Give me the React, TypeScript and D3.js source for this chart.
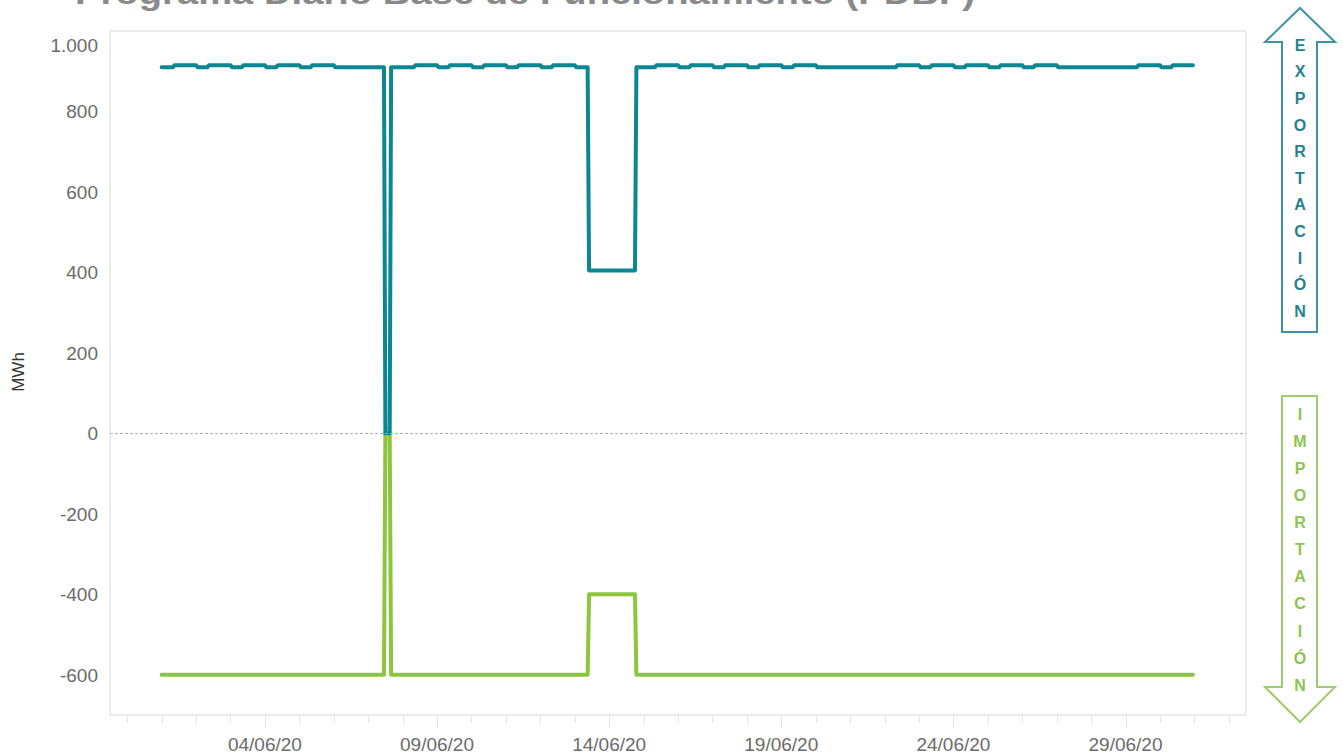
import React from "react";
import * as d3 from "d3";

// ---------- DATA ----------
// Hourly series for June 2020, encoded as runs: [hourIndex from 01/06 00:00, value]
const exportRuns: [number, number][] = [
  [0, 910], [9, 915], [25, 910], [33, 915], [49, 910], [57, 915], [73, 910], [81, 915],
  [97, 910], [105, 915], [121, 910], [156, 0], [160, 910], [177, 915], [193, 910],
  [201, 915], [217, 910], [225, 915], [241, 910], [249, 915], [265, 910], [273, 915],
  [289, 910], [298, 405], [331, 910], [345, 915], [361, 910], [369, 915], [385, 910],
  [393, 915], [409, 910], [417, 915], [433, 910], [441, 915], [457, 910], [513, 915],
  [529, 910], [537, 915], [553, 910], [561, 915], [577, 910], [585, 915], [601, 910],
  [609, 915], [625, 910], [681, 915], [697, 910], [705, 915],
];
const importRuns: [number, number][] = [
  [0, -600], [156, 0], [160, -600], [298, -400], [331, -600],
];
const hourCount = 720;
const yTicks = [-600, -400, -200, 0, 200, 400, 600, 800, 1000];
const yTickLabels = ["-600", "-400", "-200", "0", "200", "400", "600", "800", "1.000"];
const xTickLabels = ["04/06/20", "09/06/20", "14/06/20", "19/06/20", "24/06/20", "29/06/20"];
const exportLetters = ["E", "X", "P", "O", "R", "T", "A", "C", "I", "Ó", "N"];
const importLetters = ["I", "M", "P", "O", "R", "T", "A", "C", "I", "Ó", "N"];
const title = "Programa Diario Base de Funcionamiento (PDBF)";

// ---------- HELPERS ----------
const START = Date.UTC(2020, 5, 1);
const HOUR = 3600e3;
const DAY = 24 * HOUR;

function expand(runs: [number, number][], n: number) {
  const out: { t: Date; v: number }[] = [];
  let r = 0;
  for (let i = 0; i < n; i++) {
    while (r + 1 < runs.length && runs[r + 1][0] <= i) r++;
    out.push({ t: new Date(START + i * HOUR), v: runs[r][1] });
  }
  return out;
}
const exportData = expand(exportRuns, hourCount);
const importData = expand(importRuns, hourCount);
const parseTick = d3.utcParse("%d/%m/%y");

export default function App() {
  const W = 1343, H = 756;
  const L = 110, R = 1246, T = 31, B = 715;
  const x = d3.scaleUtc()
    .domain([new Date(START - 1.5 * DAY), new Date(START + 31.5 * DAY)])
    .range([L, R]);
  const y = d3.scaleLinear().domain([-700, 1000]).range([B, T]);
  const line = d3.line<{ t: Date; v: number }>().x(d => x(d.t)).y(d => y(d.v));

  const dayTicks = d3.utcDay.range(new Date(START - 1 * DAY), new Date(START + 32 * DAY));
  const majorSet = new Set(xTickLabels.map(s => (parseTick(s) as Date).getTime()));

  const font = "'Liberation Sans', Arial, sans-serif";
  const teal = "#0b8793";
  const green = "#8cc63f";

  // arrow geometry
  const ax = 1300;
  const expArrow = `M${ax},8 L${ax + 35},42 L${ax + 17},42 L${ax + 17},332 L${ax - 18},332 L${ax - 18},42 L${ax - 35},42 Z`;
  const impArrow = `M${ax - 18},396 L${ax + 17},396 L${ax + 17},687 L${ax + 35},687 L${ax},722 L${ax - 35},687 L${ax - 18},687 Z`;

  return (
    <svg width={W} height={H} style={{ position: "absolute", left: 0, top: 0, background: "#fff" }}
      fontFamily={font}>
      <text x={75} y={4} fontSize={32} fontWeight="bold" fill="#8a8a8a"
        textLength={900} lengthAdjust="spacingAndGlyphs">{title}</text>

      {/* plot frame */}
      <rect x={L} y={T} width={R - L} height={B - T} fill="none" stroke="#d9d9d9" strokeWidth={1} />

      {/* x ticks */}
      {dayTicks.map((d, i) => {
        const xx = Math.round(x(d)) + 0.5;
        if (xx < L || xx > R) return null;
        const major = majorSet.has(d.getTime());
        return <line key={i} x1={xx} x2={xx} y1={B + 1} y2={B + (major ? 13 : 8)}
          stroke="#e3e3e3" strokeWidth={1} />;
      })}
      {xTickLabels.map((s, i) => (
        <text key={s} x={x(parseTick(s) as Date)} y={751} fontSize={19} fill="#6b6b6b"
          textAnchor="middle">{s}</text>
      ))}

      {/* y tick labels */}
      {yTicks.map((v, i) => (
        <text key={v} x={98} y={Math.max(y(v), 45)} dy="0.36em" fontSize={19} fill="#6b6b6b"
          textAnchor="end">{yTickLabels[i]}</text>
      ))}
      <text transform={`translate(24,${372}) rotate(-90)`} fontSize={17} fill="#333"
        textAnchor="middle">MWh</text>

      {/* series */}
      <path d={line(importData) || ""} fill="none" stroke={green} strokeWidth={4}
        strokeLinejoin="round" strokeLinecap="round" />
      <path d={line(exportData) || ""} fill="none" stroke={teal} strokeWidth={4}
        strokeLinejoin="round" strokeLinecap="round" />

      {/* zero line */}
      <line x1={L} x2={R} y1={Math.round(y(0)) + 0.5} y2={Math.round(y(0)) + 0.5}
        stroke="#b0b0b0" strokeWidth={1} strokeDasharray="3,2" />

      {/* export arrow */}
      <path d={expArrow} fill="#fff" stroke="#3b949e" strokeWidth={2} strokeLinejoin="miter" />
      {exportLetters.map((c, i) => (
        <text key={"e" + i} x={ax} y={45 + i * 26.6} dy="0.36em" fontSize={16} fontWeight="bold"
          fill="#23828e" textAnchor="middle">{c}</text>
      ))}
      {/* import arrow */}
      <path d={impArrow} fill="#fff" stroke="#9dcd6a" strokeWidth={2} strokeLinejoin="miter" />
      {importLetters.map((c, i) => (
        <text key={"i" + i} x={ax} y={414 + i * 27.1} dy="0.36em" fontSize={16} fontWeight="bold"
          fill="#8cc450" textAnchor="middle">{c}</text>
      ))}
    </svg>
  );
}
